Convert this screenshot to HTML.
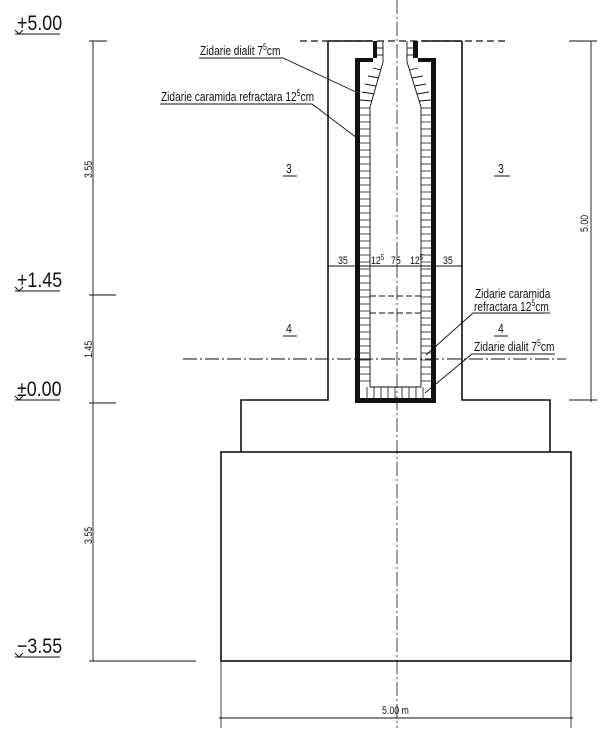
<!DOCTYPE html>
<html><head><meta charset="utf-8"><style>
html,body{margin:0;padding:0;background:#fff;}
svg{display:block}
text{font-family:"Liberation Sans",sans-serif;fill:#111}
</style></head><body>
<svg width="600" height="732" viewBox="0 0 600 732" xmlns="http://www.w3.org/2000/svg">
<g stroke="#111" fill="none" stroke-width="1">
<line x1="397" y1="0" x2="397" y2="728" stroke-dasharray="14,3,2,3" stroke-width="0.8"/>
<line x1="300" y1="41" x2="508" y2="41" stroke-dasharray="7,4" stroke-width="1.3"/>
<line x1="183" y1="359" x2="566" y2="359" stroke-dasharray="14,3,2,3" stroke-width="0.9"/>
<polyline points="328,41 328,400 241,400 241,452" stroke-width="1.6"/>
<polyline points="462,41 462,400 550,400 550,452" stroke-width="1.6"/>
<line x1="328" y1="41" x2="372" y2="41" stroke-width="1.4"/>
<line x1="422" y1="41" x2="462" y2="41" stroke-width="1.4"/>
<rect x="221" y="452" width="350" height="209" stroke-width="1.6"/>
<line x1="221" y1="661" x2="221" y2="728" stroke-width="0.8"/>
<line x1="571" y1="661" x2="571" y2="728" stroke-width="0.8"/>
<line x1="219" y1="718" x2="573" y2="718" stroke-width="1"/>
<line x1="93" y1="41" x2="93" y2="661" stroke-width="0.9"/>
<line x1="89" y1="41" x2="107" y2="41"/>
<line x1="89" y1="295" x2="116" y2="295"/>
<line x1="89" y1="403" x2="116" y2="403"/>
<line x1="89" y1="661" x2="196" y2="661"/>
<line x1="591" y1="41" x2="591" y2="402" stroke-width="0.9"/>
<line x1="569" y1="41" x2="597" y2="41"/>
<line x1="569" y1="400" x2="597" y2="400"/>
<line x1="328" y1="266" x2="462" y2="266" stroke-width="0.9"/>
<line x1="370" y1="296" x2="421" y2="296" stroke-dasharray="6,3"/>
<line x1="370" y1="313" x2="421" y2="313" stroke-dasharray="6,3"/>
<g stroke-width="1">
<line x1="15" y1="34" x2="60" y2="34"/><polyline points="15,30 19,34 23,30"/>
<line x1="15" y1="291" x2="60" y2="291"/><polyline points="15,287 19,291 23,287"/>
<line x1="15" y1="400" x2="60" y2="400"/><polyline points="15,396 19,400 23,396"/>
<line x1="15" y1="657" x2="60" y2="657"/><polyline points="15,653 19,657 23,653"/>
</g>
<polyline points="199,58 283,58 358,93" stroke-width="0.9"/>
<polyline points="160,104 312,104 357,138" stroke-width="0.9"/>
<polyline points="550,313 473,313 426,355" stroke-width="0.9"/>
<polyline points="555,354 472,354 425,393" stroke-width="0.9"/>
<line x1="283" y1="176" x2="297" y2="176"/>
<line x1="494" y1="176" x2="510" y2="176"/>
<line x1="283" y1="336" x2="297" y2="336"/>
<line x1="494" y1="336" x2="508" y2="336"/>
</g>
<g fill="#111">
<polygon points="355,58 377,58 377,41 373,41 373,62 360,62 360,398 431,398 431,62 418,62 418,41 413,41 413,58 436,58 436,403 355,403"/>
</g>
<g stroke="#111" fill="none" stroke-width="0.9">
<polyline points="383,41 383,62 370,107 370,387"/>
<polyline points="407,41 407,62 421,107 421,387"/>
<line x1="370" y1="387" x2="421" y2="387"/>
<line x1="377" y1="48" x2="383" y2="48"/><line x1="377" y1="55" x2="383" y2="55"/>
<line x1="413" y1="48" x2="407" y2="48"/><line x1="413" y1="55" x2="407" y2="55"/>
<line x1="373" y1="68" x2="381" y2="70"/><line x1="368" y1="76" x2="379" y2="78"/>
<line x1="365" y1="84" x2="376" y2="86"/><line x1="362" y1="92" x2="374" y2="94"/>
<line x1="360" y1="100" x2="372" y2="101"/>
<line x1="418" y1="68" x2="410" y2="70"/><line x1="423" y1="76" x2="412" y2="78"/>
<line x1="426" y1="84" x2="415" y2="86"/><line x1="429" y1="92" x2="417" y2="94"/>
<line x1="431" y1="100" x2="419" y2="101"/>
</g>
<g stroke="#111" stroke-width="0.8">
<path d="M360 108H370M360 115H370M360 122H370M360 129H370M360 136H370M360 143H370M360 150H370M360 157H370M360 164H370M360 171H370M360 178H370M360 185H370M360 192H370M360 199H370M360 206H370M360 213H370M360 220H370M360 227H370M360 234H370M360 241H370M360 248H370M360 255H370M360 262H370M360 269H370M360 276H370M360 283H370M360 290H370M360 297H370M360 304H370M360 311H370M360 318H370M360 325H370M360 332H370M360 339H370M360 346H370M360 353H370M360 360H370M360 367H370M360 374H370M360 381H370"/>
<path d="M421 108H431M421 115H431M421 122H431M421 129H431M421 136H431M421 143H431M421 150H431M421 157H431M421 164H431M421 171H431M421 178H431M421 185H431M421 192H431M421 199H431M421 206H431M421 213H431M421 220H431M421 227H431M421 234H431M421 241H431M421 248H431M421 255H431M421 262H431M421 269H431M421 276H431M421 283H431M421 290H431M421 297H431M421 304H431M421 311H431M421 318H431M421 325H431M421 332H431M421 339H431M421 346H431M421 353H431M421 360H431M421 367H431M421 374H431M421 381H431"/>
<path d="M367 387V398M374 387V398M381 387V398M388 387V398M395 387V398M402 387V398M409 387V398M416 387V398M423 387V398"/>
</g>
<g font-size="21">
<text transform="translate(17,30) scale(0.85,1)">+5.00</text>
<text transform="translate(17,287) scale(0.85,1)">+1.45</text>
<text transform="translate(17,396) scale(0.85,1)">±0.00</text>
<text transform="translate(17,653) scale(0.85,1)">−3.55</text>
</g>
<g font-size="11">
<text transform="translate(92,178) rotate(-90) scale(0.8,1)">3.55</text>
<text transform="translate(92,358) rotate(-90) scale(0.8,1)">1.45</text>
<text transform="translate(92,544) rotate(-90) scale(0.8,1)">3.55</text>
<text transform="translate(588,232) rotate(-90) scale(0.8,1)">5.00</text>
<text transform="translate(382,714) scale(0.8,1)">5.00 m</text>
<text transform="translate(338,264) scale(0.8,1)">35</text>
<text transform="translate(371,264) scale(0.8,1)">12<tspan font-size="8" dy="-4">5</tspan></text>
<text transform="translate(391,264) scale(0.8,1)">75</text>
<text transform="translate(410,264) scale(0.8,1)">12<tspan font-size="8" dy="-4">5</tspan></text>
<text transform="translate(443,264) scale(0.8,1)">35</text>
<text transform="translate(286,173) scale(0.8,1)" font-size="13">3</text>
<text transform="translate(498,173) scale(0.8,1)" font-size="13">3</text>
<text transform="translate(286,333) scale(0.8,1)" font-size="13">4</text>
<text transform="translate(498,333) scale(0.8,1)" font-size="13">4</text>
</g>
<g font-size="13">
<text transform="translate(200,55) scale(0.78,1)">Zidarie dialit 7<tspan font-size="9" dy="-5">5</tspan><tspan dy="5">cm</tspan></text>
<text transform="translate(161,101) scale(0.78,1)">Zidarie caramida refractara 12<tspan font-size="9" dy="-5">5</tspan><tspan dy="5">cm</tspan></text>
<text transform="translate(475,298) scale(0.78,1)">Zidarie caramida</text>
<text transform="translate(474,311) scale(0.78,1)">refractara 12<tspan font-size="9" dy="-5">5</tspan><tspan dy="5">cm</tspan></text>
<text transform="translate(474,351) scale(0.78,1)">Zidarie dialit 7<tspan font-size="9" dy="-5">5</tspan><tspan dy="5">cm</tspan></text>
</g>
</svg>
</body></html>
